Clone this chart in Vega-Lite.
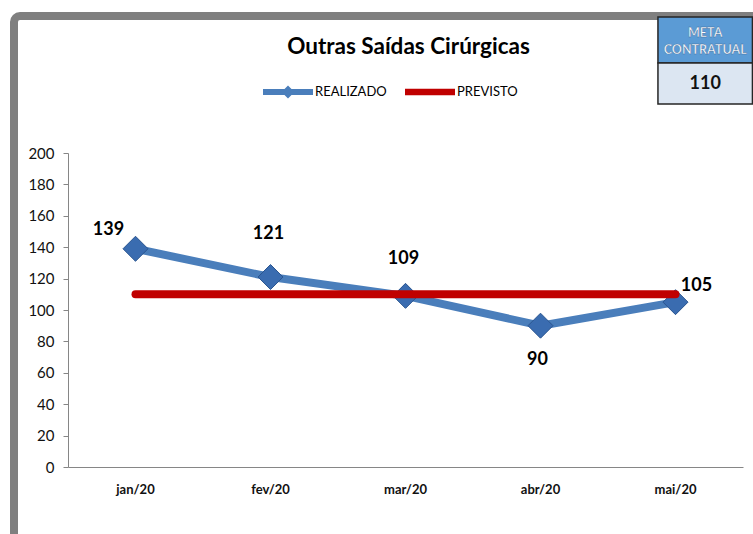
{
  "$schema": "https://vega.github.io/schema/vega-lite/v6.json",
  "width": 749,
  "height": 528,
  "autosize": {"type": "none"},
  "padding": {"left": 14, "top": 16, "right": -10, "bottom": -10},
  "background": "white",
  "config": {
    "view": {"stroke": "#7f7f7f", "strokeWidth": 8, "cornerRadius": 6, "fill": "white"},
    "font": "Lato"
  },
  "title": {
    "text": "Outras Saídas Cirúrgicas",
    "font": "Lato",
    "fontSize": 22.5,
    "fontWeight": "bold",
    "color": "#000000",
    "anchor": "middle",
    "frame": "group",
    "baseline": "middle",
    "offset": 0,
    "dx": 20,
    "dy": 53
  },
  "datasets": {
    "serie": [
      {"mes": "jan/20", "serie": "REALIZADO", "valor": 139},
      {"mes": "fev/20", "serie": "REALIZADO", "valor": 121},
      {"mes": "mar/20", "serie": "REALIZADO", "valor": 109},
      {"mes": "abr/20", "serie": "REALIZADO", "valor": 90},
      {"mes": "mai/20", "serie": "REALIZADO", "valor": 105},
      {"mes": "jan/20", "serie": "PREVISTO", "valor": 110},
      {"mes": "fev/20", "serie": "PREVISTO", "valor": 110},
      {"mes": "mar/20", "serie": "PREVISTO", "valor": 110},
      {"mes": "abr/20", "serie": "PREVISTO", "valor": 110},
      {"mes": "mai/20", "serie": "PREVISTO", "valor": 110}
    ],
    "meta": [
      {"rotulo": "META CONTRATUAL", "meta": 110}
    ]
  },
  "layer": [
    {
      "data": {"name": "serie"},
      "encoding": {
        "x": {
          "field": "mes",
          "type": "nominal",
          "scale": {
            "type": "band",
            "domain": ["jan/20", "fev/20", "mar/20", "abr/20", "mai/20"],
            "range": [54, 729],
            "paddingInner": 0,
            "paddingOuter": 0
          },
          "axis": {
            "title": null,
            "offset": -77,
            "ticks": false,
            "grid": false,
            "domainColor": "#868686",
            "labelFont": "Lato",
            "labelFontSize": 13,
            "labelFontWeight": "bold",
            "labelColor": "#111111",
            "labelPadding": 16,
            "labelAngle": 0
          }
        },
        "y": {
          "field": "valor",
          "type": "quantitative",
          "scale": {"domain": [0, 200], "range": [451, 137], "nice": false},
          "axis": {
            "title": null,
            "values": [0, 20, 40, 60, 80, 100, 120, 140, 160, 180, 200],
            "offset": -54,
            "grid": false,
            "domainColor": "#868686",
            "tickColor": "#868686",
            "tickSize": 5,
            "labelFont": "Lato",
            "labelFontSize": 15,
            "labelColor": "#111111",
            "labelPadding": 9
          }
        }
      },
      "layer": [
        {
          "transform": [{"filter": "datum.serie === 'REALIZADO'"}],
          "mark": {"type": "line", "strokeWidth": 8, "strokeCap": "round", "strokeJoin": "round"},
          "encoding": {
            "color": {
              "field": "serie",
              "type": "nominal",
              "scale": {"domain": ["REALIZADO", "PREVISTO"], "range": ["#4A7EBB", "#C00000"]},
              "legend": {
                "title": null,
                "orient": "none",
                "legendX": 249,
                "legendY": 51,
                "direction": "horizontal",
                "padding": 0,
                "symbolSize": 2500,
                "labelFont": "Lato",
                "labelFontSize": 13,
                "labelColor": "#000000",
                "labelOffset": 2,
                "columnPadding": 18,
                "encode": {
                  "symbols": {
                    "update": {
                      "shape": {"signal": "datum.value === 'REALIZADO' ? 'M-1,-0.12L1,-0.12L1,0.12L-1,0.12Z M0,-0.26L0.26,0L0,0.26L-0.26,0Z' : 'M-1,-0.13L1,-0.13L1,0.13L-1,0.13Z'"},
                      "fill": {"scale": "color", "field": "value"},
                      "stroke": {"value": "transparent"},
                      "strokeWidth": {"value": 0},
                      "opacity": {"value": 1}
                    }
                  }
                }
              }
            }
          }
        },
        {
          "transform": [{"filter": "datum.serie === 'REALIZADO'"}],
          "mark": {"type": "point", "shape": "diamond", "size": 625, "filled": true, "fill": "#3A6CB0", "stroke": "#2A5590", "strokeWidth": 1, "opacity": 1}
        },
        {
          "transform": [{"filter": "datum.serie === 'PREVISTO'"}],
          "mark": {"type": "line", "strokeWidth": 8, "strokeCap": "round"},
          "encoding": {"color": {"field": "serie", "type": "nominal"}}
        },
        {
          "transform": [{"filter": "datum.serie === 'REALIZADO' && datum.mes === 'jan/20'"}],
          "mark": {"type": "text", "fontSize": 18, "fontWeight": "bold", "color": "#000000", "dx": -27, "dy": -19},
          "encoding": {"text": {"field": "valor"}}
        },
        {
          "transform": [{"filter": "datum.serie === 'REALIZADO' && datum.mes === 'fev/20'"}],
          "mark": {"type": "text", "fontSize": 18, "fontWeight": "bold", "color": "#000000", "dx": -2, "dy": -43},
          "encoding": {"text": {"field": "valor"}}
        },
        {
          "transform": [{"filter": "datum.serie === 'REALIZADO' && datum.mes === 'mar/20'"}],
          "mark": {"type": "text", "fontSize": 18, "fontWeight": "bold", "color": "#000000", "dx": -2, "dy": -37},
          "encoding": {"text": {"field": "valor"}}
        },
        {
          "transform": [{"filter": "datum.serie === 'REALIZADO' && datum.mes === 'abr/20'"}],
          "mark": {"type": "text", "fontSize": 18, "fontWeight": "bold", "color": "#000000", "dx": -3, "dy": 34},
          "encoding": {"text": {"field": "valor"}}
        },
        {
          "transform": [{"filter": "datum.serie === 'REALIZADO' && datum.mes === 'mai/20'"}],
          "mark": {"type": "text", "fontSize": 18, "fontWeight": "bold", "color": "#000000", "dx": 21, "dy": -16},
          "encoding": {"text": {"field": "valor"}}
        }
      ]
    },
    {
      "data": {"name": "meta"},
      "layer": [
        {
          "mark": {"type": "rect", "fill": "#5B9BD5", "stroke": "#262626", "strokeWidth": 1.5},
          "encoding": {
            "x": {"datum": "mai/20", "bandPosition": 0.37},
            "x2": {"datum": "mai/20", "bandPosition": 1.07},
            "y": {"datum": 286.6},
            "y2": {"datum": 257.3}
          }
        },
        {
          "mark": {"type": "rect", "fill": "#DCE6F2", "stroke": "#262626", "strokeWidth": 1.5},
          "encoding": {
            "x": {"datum": "mai/20", "bandPosition": 0.37},
            "x2": {"datum": "mai/20", "bandPosition": 1.07},
            "y": {"datum": 257.3},
            "y2": {"datum": 231.2}
          }
        },
        {
          "mark": {"type": "text", "lineBreak": " ", "lineHeight": 17, "fontSize": 12.5, "fontWeight": "bold", "color": "#ffffff", "stroke": "#3a6a9a", "strokeWidth": 0.4, "font": "Lato"},
          "encoding": {
            "x": {"datum": "mai/20", "bandPosition": 0.72},
            "y": {"datum": 276.4},
            "text": {"field": "rotulo"}
          }
        },
        {
          "mark": {"type": "text", "fontSize": 18, "fontWeight": "bold", "color": "#111111", "font": "Lato"},
          "encoding": {
            "x": {"datum": "mai/20", "bandPosition": 0.72},
            "y": {"datum": 243.9},
            "text": {"field": "meta"}
          }
        }
      ]
    }
  ]
}
